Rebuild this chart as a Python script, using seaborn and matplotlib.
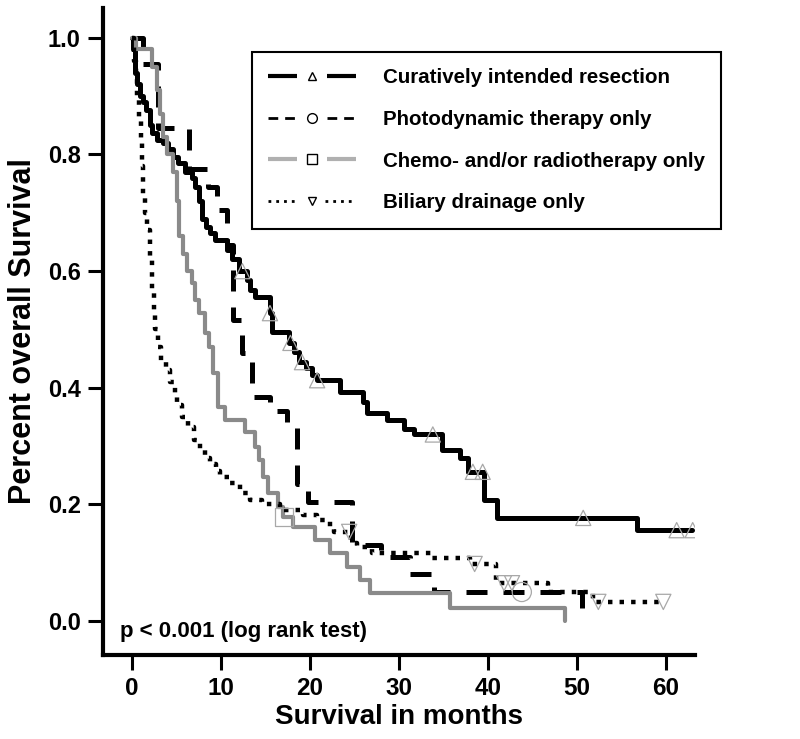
import matplotlib
matplotlib.use("Agg")
import matplotlib.pyplot as plt
import seaborn as sns
import pandas as pd
import numpy as np
from matplotlib.lines import Line2D
from matplotlib.legend_handler import HandlerBase

# ---------------- data ----------------
labels = ["Curatively intended resection", "Photodynamic therapy only",
          "Chemo- and/or radiotherapy only", "Biliary drainage only"]

res_t = [0, 0.1, 0.3, 0.6, 0.9, 1.2, 1.6, 2.0, 2.3, 2.8, 3.5, 4.0, 4.6, 5.2, 6.0,
         6.7, 7.1, 7.5, 7.9, 8.3, 8.8, 9.3, 10.7, 11.2, 12.0, 12.9, 13.3, 13.8,
         15.5, 15.7, 17.6, 18.2, 18.8, 19.5, 20.2, 20.8, 23.4, 26.0, 26.4, 28.6,
         30.6, 31.7, 34.8, 36.8, 37.7, 39.5, 41.0, 56.7, 62.9]
res_s = [1.0, 0.98, 0.94, 0.92, 0.90, 0.89, 0.877, 0.85, 0.837, 0.825, 0.82, 0.81,
         0.796, 0.785, 0.77, 0.76, 0.745, 0.72, 0.69, 0.676, 0.665, 0.654, 0.636,
         0.62, 0.60, 0.585, 0.568, 0.556, 0.528, 0.496, 0.477, 0.461, 0.444, 0.434,
         0.422, 0.413, 0.393, 0.375, 0.357, 0.345, 0.33, 0.32, 0.293, 0.28, 0.256,
         0.207, 0.177, 0.156, 0.156]
res_cens_t = [12.4, 15.5, 17.8, 19.1, 20.8, 33.8, 38.3, 39.4, 50.7, 61.2, 63.0]
res_cens_s = [0.60, 0.528, 0.477, 0.444, 0.413, 0.32, 0.256, 0.256, 0.177, 0.156, 0.156]

pdt_t = [0, 1.2, 2.9, 6.4, 8.5, 9.6, 10.7, 11.3, 12.4, 13.5, 15.5, 17.4, 18.5,
         19.8, 24.7, 28.0, 31.2, 33.9, 50.6]
pdt_s = [1.0, 0.955, 0.845, 0.775, 0.745, 0.705, 0.645, 0.516, 0.46, 0.384, 0.36,
         0.333, 0.235, 0.205, 0.13, 0.11, 0.08, 0.05, 0.0]
pdt_cens_t = [43.8]
pdt_cens_s = [0.05]

chemo_t = [0, 0.5, 2.3, 2.8, 3.1, 3.5, 3.9, 4.6, 5.0, 5.3, 5.7, 6.2, 6.7, 7.1, 7.5,
           8.2, 8.65, 9.1, 9.7, 10.4, 12.7, 13.8, 14.3, 14.7, 15.3, 16.4, 17.0,
           18.1, 20.6, 22.2, 24.2, 25.6, 26.7, 35.7, 48.7]
chemo_s = [1.0, 0.98, 0.95, 0.91, 0.87, 0.83, 0.80, 0.77, 0.72, 0.66, 0.63, 0.60,
           0.58, 0.55, 0.528, 0.494, 0.47, 0.425, 0.367, 0.345, 0.324, 0.298,
           0.276, 0.247, 0.22, 0.196, 0.178, 0.161, 0.139, 0.117, 0.093, 0.07,
           0.048, 0.022, 0.0]
chemo_cens_t = [17.1]
chemo_cens_s = [0.178]

bil_t = [0, 0.2, 0.4, 0.6, 0.8, 1.0, 1.1, 1.25, 1.5, 1.7, 2.0, 2.25, 2.45, 2.6,
         2.9, 3.3, 3.8, 4.3, 4.8, 5.1, 5.6, 6.3, 7.0, 7.6, 8.2, 8.8, 9.4, 9.9,
         11.0, 12.1, 13.3, 14.6, 16.6, 19.2, 20.8, 22.3, 22.7, 24.6, 25.3, 27.0,
         33.7, 38.0, 40.9, 46.7, 51.8, 59.7]
bil_s = [1.0, 0.96, 0.93, 0.90, 0.86, 0.82, 0.78, 0.73, 0.70, 0.67, 0.62, 0.57,
         0.53, 0.50, 0.47, 0.445, 0.43, 0.41, 0.39, 0.37, 0.35, 0.333, 0.31, 0.293,
         0.28, 0.27, 0.258, 0.247, 0.237, 0.22, 0.207, 0.20, 0.19, 0.182, 0.173,
         0.161, 0.153, 0.134, 0.127, 0.117, 0.108, 0.098, 0.065, 0.05, 0.033, 0.033]
bil_cens_t = [24.4, 38.5, 41.8, 42.7, 52.4, 59.7]
bil_cens_s = [0.153, 0.098, 0.065, 0.065, 0.033, 0.033]

xticks = [0, 10, 20, 30, 40, 50, 60]
yticks = [0.0, 0.2, 0.4, 0.6, 0.8, 1.0]

# ---------------- style ----------------
sns.set_style("ticks")
plt.rcParams["font.family"] = ["Liberation Sans", "DejaVu Sans"]
plt.rcParams["font.weight"] = "bold"
for k in ["text.color", "axes.labelcolor", "xtick.color", "ytick.color"]:
    plt.rcParams[k] = "black"

GRAY = "#8a8a8a"
CENS = "#a8a8a8"

fig = plt.figure(figsize=(8, 7.39), dpi=100)
ax = fig.add_axes([103 / 800, 1 - 655 / 739, (695 - 103) / 800, (655 - 8) / 739])

curves = [
    (res_t, res_s, dict(color="black", linewidth=3.6, linestyle="-")),
    (pdt_t, pdt_s, dict(color="black", linewidth=3.6, linestyle=(0, (4.2, 3.2)))),
    (chemo_t, chemo_s, dict(color=GRAY, linewidth=3.0, linestyle="-")),
    (bil_t, bil_s, dict(color="black", linewidth=3.2, linestyle=(0, (1, 1.6)))),
]
for t, s, kw in curves:
    df = pd.DataFrame({"t": t, "s": s})
    sns.lineplot(data=df, x="t", y="s", ax=ax, estimator=None, sort=False,
                 drawstyle="steps-post", **kw)

cens = [
    (res_cens_t, res_cens_s, "^", 120),
    (pdt_cens_t, pdt_cens_s, "o", 190),
    (chemo_cens_t, chemo_cens_s, "s", 170),
    (bil_cens_t, bil_cens_s, "v", 120),
]
for t, s, m, size in cens:
    sns.scatterplot(x=t, y=s, ax=ax, marker=m, s=size, facecolor="none",
                    edgecolor=CENS, linewidth=0.9, zorder=4)

ax.set_xlim(-3.26, 63.26)
ax.set_ylim(-0.058, 1.051)
ax.set_xticks(xticks)
ax.set_yticks(yticks)
ax.set_xticklabels([str(v) for v in xticks], fontsize=17.5, fontweight="bold")
ax.set_yticklabels([f"{v:.1f}" for v in yticks], fontsize=17, fontweight="bold")
for sp in ["top", "right"]:
    ax.spines[sp].set_visible(False)
for sp in ["left", "bottom"]:
    ax.spines[sp].set_linewidth(3)
    ax.spines[sp].set_color("black")
ax.tick_params(axis="both", direction="out", length=11, width=2.2, colors="black", pad=5)
ax.set_xlabel("Survival in months", fontsize=20, fontweight="bold", labelpad=3)
ax.set_ylabel("Percent overall Survival", fontsize=22, fontweight="bold", labelpad=7)

ax.text(-1.3, -0.018, "p < 0.001 (log rank test)", fontsize=16, fontweight="bold",
        va="center", ha="left")


# ---------------- legend ----------------
class SplitHandler(HandlerBase):
    def __init__(self, line_kw, marker_kw, gap=0.2):
        super().__init__()
        self.line_kw = line_kw
        self.marker_kw = marker_kw
        self.gap = gap

    def create_artists(self, legend, orig_handle, xdescent, ydescent, width,
                       height, fontsize, trans):
        y = height / 2 - ydescent
        x0 = -xdescent
        x1 = x0 + width
        xm = (x0 + x1) / 2
        g = width * self.gap
        a = Line2D([x0, xm - g], [y, y], **self.line_kw)
        b = Line2D([xm + g, x1], [y, y], **self.line_kw)
        c = Line2D([xm], [y], linestyle="none", **self.marker_kw)
        for art in (a, b, c):
            art.set_transform(trans)
        return [a, b, c]


mk = dict(markerfacecolor="white", markeredgecolor="black", markeredgewidth=1.0)
handles = [Line2D([], []) for _ in labels]
hmap = {
    handles[0]: SplitHandler(dict(color="black", linewidth=3.0, linestyle="-",
                                  solid_capstyle="butt"),
                             dict(marker="^", markersize=6, **mk), gap=0.17),
    handles[1]: SplitHandler(dict(color="black", linewidth=2.0, linestyle=(0, (3.5, 2.5))),
                             dict(marker="o", markersize=7, **mk), gap=0.17),
    handles[2]: SplitHandler(dict(color="#b0b0b0", linewidth=3.0, linestyle="-",
                                  solid_capstyle="butt"),
                             dict(marker="s", markersize=6.5, **mk), gap=0.17),
    handles[3]: SplitHandler(dict(color="black", linewidth=2.0, linestyle=(0, (1, 1.8))),
                             dict(marker="v", markersize=6, **mk), gap=0.15),
}
leg = ax.legend(handles, labels, handler_map=hmap, loc="upper left",
                bbox_to_anchor=(252 / 800, 1 - 52 / 739), bbox_transform=fig.transFigure,
                borderaxespad=0, frameon=True, fancybox=False, shadow=False,
                handlelength=4.25, handletextpad=1.3, labelspacing=1.1,
                borderpad=0.8, prop=dict(size=14.8, weight="bold"))
leg.get_frame().set_edgecolor("black")
leg.get_frame().set_linewidth(1.5)
leg.get_frame().set_alpha(1)

fig.savefig("out.png", dpi=100, facecolor="white")
